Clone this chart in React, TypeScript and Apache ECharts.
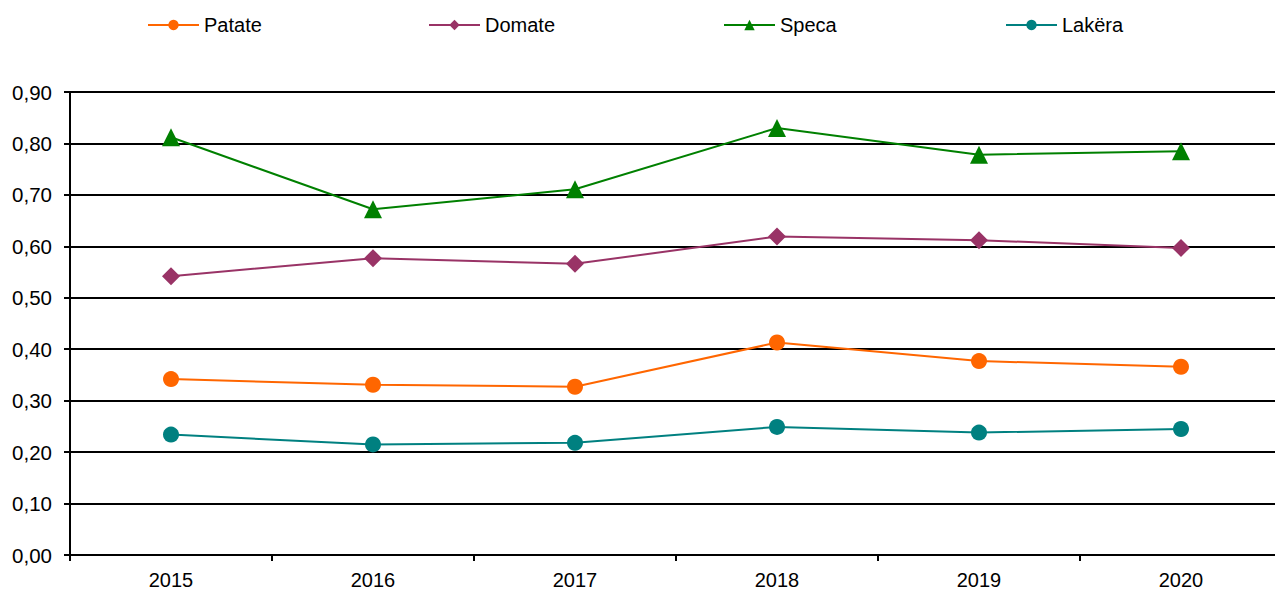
import React, { useEffect, useRef } from "react";
import * as echarts from "echarts";

const years = ["2015", "2016", "2017", "2018", "2019", "2020"];
const patate = [0.342, 0.331, 0.327, 0.413, 0.377, 0.366];
const domate = [0.542, 0.577, 0.566, 0.619, 0.612, 0.597];
const speca = [0.812, 0.672, 0.711, 0.830, 0.778, 0.785];
const lakera = [0.234, 0.215, 0.218, 0.249, 0.238, 0.245];

const seriesNames = ["Patate", "Domate", "Speca", "Lakëra"];
const seriesColors = ["#FF6600", "#993366", "#008000", "#008080"];
const seriesSymbols = ["circle", "diamond", "triangle", "circle"];
const seriesSizes = [16, 18, 18, 16];
const legendLefts = [147, 428, 723, 1005];

const FONT = "'Liberation Sans', Arial, sans-serif";

export default function App() {
  const ref = useRef<HTMLDivElement>(null);
  useEffect(() => {
    if (!ref.current) return;
    const chart = echarts.init(ref.current, null, { renderer: "svg" });
    const data = [patate, domate, speca, lakera];
    chart.setOption({
      animation: false,
      backgroundColor: "#fff",
      textStyle: { fontFamily: FONT },
      legend: seriesNames.map((n, i) => ({
        data: [n],
        left: legendLefts[i],
        top: 15,
        padding: 0,
        itemWidth: 51,
        itemHeight: 13,
        textStyle: { fontFamily: FONT, fontSize: 20, color: "#000" },
      })),
      grid: { left: 70, top: 92, width: 1212, height: 463, containLabel: false },
      xAxis: {
        type: "category",
        data: years,
        boundaryGap: true,
        axisLine: { lineStyle: { color: "#000", width: 2 } },
        axisTick: { show: true, length: 6, lineStyle: { color: "#000", width: 2 } },
        axisLabel: { fontFamily: FONT, fontSize: 20, color: "#000", margin: 15 },
      },
      yAxis: {
        type: "value",
        min: 0,
        max: 0.9,
        interval: 0.1,
        axisLine: { show: true, lineStyle: { color: "#000", width: 2 } },
        axisTick: { show: true, length: 6, lineStyle: { color: "#000", width: 2 } },
        splitLine: { show: true, lineStyle: { color: "#000", width: 2 } },
        axisLabel: {
          fontFamily: FONT,
          fontSize: 20.5,
          color: "#000",
          margin: 18,
          formatter: (v: number) => v.toFixed(2).replace(".", ","),
        },
      },
      series: seriesNames.map((n, i) => ({
        name: n,
        type: "line",
        data: data[i],
        symbol: seriesSymbols[i],
        symbolSize: seriesSizes[i],
        itemStyle: { color: seriesColors[i] },
        lineStyle: { color: seriesColors[i], width: 2 },
        z: 3,
      })),
    });
    return () => chart.dispose();
  }, []);
  return (
    <div style={{ position: "fixed", left: 0, top: 0, width: 1275, height: 592, overflow: "hidden", background: "#fff" }}>
      <div ref={ref} style={{ width: 1290, height: 592 }} />
    </div>
  );
}
